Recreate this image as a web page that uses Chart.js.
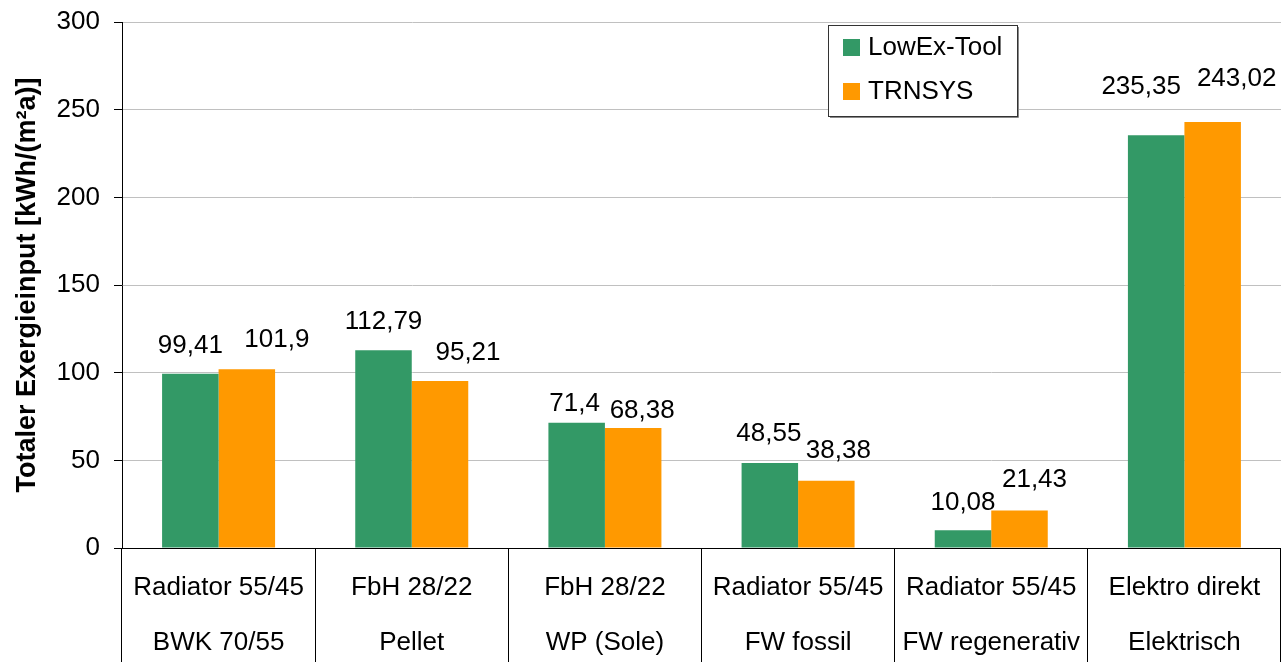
<!DOCTYPE html>
<html lang="de">

<head>
    <meta charset="UTF-8" />
    <title>Totaler Exergieinput</title>
    <script src="https://cdn.jsdelivr.net/npm/chart.js"></script>
    <style>
        body {
            margin: 0;
            background: #fff;
        }

        .grafico {
            width: 1281px;
            height: 662px;
            position: relative;
        }
    </style>
</head>

<body>
    <div class="grafico">
        <canvas id="exergieChart"></canvas>
    </div>

    <script>
        // Daten aus dem Diagramm
        const kategorien = [
            ['Radiator 55/45', 'BWK 70/55'],
            ['FbH 28/22', 'Pellet'],
            ['FbH 28/22', 'WP (Sole)'],
            ['Radiator 55/45', 'FW fossil'],
            ['Radiator 55/45', 'FW regenerativ'],
            ['Elektro direkt', 'Elektrisch']
        ];
        const lowexWerte = [99.41, 112.79, 71.4, 48.55, 10.08, 235.35];
        const trnsysWerte = [101.9, 95.21, 68.38, 38.38, 21.43, 243.02];
        const yTicks = [0, 50, 100, 150, 200, 250, 300];

        // Verschiebung der Wertebeschriftungen (px), wie im Original von Hand verschoben
        const labelVersatzX = [[0, 0, -2, -1, 0, -15], [30, 28, 9, 12, 15, 24]];
        const labelVersatzY = [[0, 0, -9, 1, -1, 20], [1, 0, -11, 2, 2, 15]];

        const schrift = 'Arial, "Liberation Sans", sans-serif';

        // Werte über den Balken
        const wertePlugin = {
            id: 'werte',
            afterDatasetsDraw(chart) {
                const ctx = chart.ctx;
                ctx.save();
                ctx.font = '26px ' + schrift;
                ctx.fillStyle = '#000';
                ctx.textAlign = 'center';
                ctx.textBaseline = 'alphabetic';
                chart.data.datasets.forEach((ds, d) => {
                    chart.getDatasetMeta(d).data.forEach((bar, i) => {
                        const txt = String(ds.data[i]).replace('.', ',');
                        ctx.fillText(txt, bar.x + labelVersatzX[d][i], bar.y - 21 - labelVersatzY[d][i]);
                    });
                });
                ctx.restore();
            }
        };

        // Legende im Kasten oben rechts
        const legendePlugin = {
            id: 'legende',
            afterDraw(chart) {
                const ctx = chart.ctx;
                const x = 828, y = 25, w = 189, h = 91;
                ctx.save();
                ctx.fillStyle = '#fff';
                ctx.fillRect(x, y, w, h);
                ctx.strokeStyle = '#888';
                ctx.lineWidth = 1;
                ctx.beginPath();
                ctx.moveTo(x + w + 1.5, y + 2);
                ctx.lineTo(x + w + 1.5, y + h + 1.5);
                ctx.lineTo(x + 2, y + h + 1.5);
                ctx.stroke();
                ctx.strokeStyle = '#333';
                ctx.strokeRect(x + 0.5, y + 0.5, w, h);
                ctx.font = '26px ' + schrift;
                ctx.textBaseline = 'middle';
                ctx.textAlign = 'left';
                chart.data.datasets.forEach((ds, d) => {
                    const cy = y + 22 + d * 44;
                    ctx.fillStyle = ds.backgroundColor;
                    ctx.fillRect(x + 15, cy - 8, 17, 17);
                    ctx.fillStyle = '#000';
                    ctx.fillText(ds.label, x + 40, cy + 1);
                });
                ctx.restore();
            }
        };

        const ctx = document.getElementById('exergieChart').getContext('2d');

        const exergieChart = new Chart(ctx, {
            type: 'bar',
            data: {
                labels: kategorien,
                datasets: [{
                    label: 'LowEx-Tool',
                    data: lowexWerte,
                    backgroundColor: '#339966',
                    borderWidth: 0
                }, {
                    label: 'TRNSYS',
                    data: trnsysWerte,
                    backgroundColor: '#FF9900',
                    borderWidth: 0
                }]
            },
            plugins: [wertePlugin, legendePlugin],
            options: {
                responsive: true,
                maintainAspectRatio: false,
                animation: false,
                datasets: {
                    bar: {
                        categoryPercentage: 0.585,
                        barPercentage: 1.0
                    }
                },
                layout: {
                    padding: { top: 22, right: 0, bottom: 0, left: 0 }
                },
                plugins: {
                    legend: { display: false },
                    tooltip: { enabled: false }
                },
                scales: {
                    x: {
                        offset: true,
                        grid: {
                            offset: true,
                            drawOnChartArea: false,
                            drawTicks: true,
                            tickLength: 114,
                            tickColor: '#000',
                            color: '#000'
                        },
                        border: { display: true, color: '#000' },
                        ticks: {
                            color: '#000',
                            font: { family: schrift, size: 26, lineHeight: 55 / 26 },
                            padding: -102,
                            maxRotation: 0,
                            minRotation: 0,
                            autoSkip: false
                        },
                        afterFit(scale) {
                            scale.height = 114;
                            scale.paddingLeft = 0;
                            scale.paddingRight = 0;
                        }
                    },
                    y: {
                        min: 0,
                        max: 300,
                        afterBuildTicks(scale) {
                            scale.ticks = yTicks.map(v => ({ value: v }));
                        },
                        grid: {
                            color: '#c0c0c0',
                            tickColor: '#000',
                            tickLength: 8
                        },
                        border: { display: true, color: '#000' },
                        ticks: {
                            color: '#000',
                            font: { family: schrift, size: 26 },
                            padding: 14
                        },
                        title: {
                            display: true,
                            text: 'Totaler Exergieinput [kWh/(m²a)]',
                            color: '#000',
                            font: { family: schrift, size: 27, weight: 'bold', lineHeight: 1.2 },
                            padding: { top: 11, bottom: 0 }
                        },
                        afterFit(scale) {
                            scale.width = 122;
                            scale.paddingTop = 0;
                            scale.paddingBottom = 0;
                        }
                    }
                }
            }
        });
    </script>
</body>

</html>
